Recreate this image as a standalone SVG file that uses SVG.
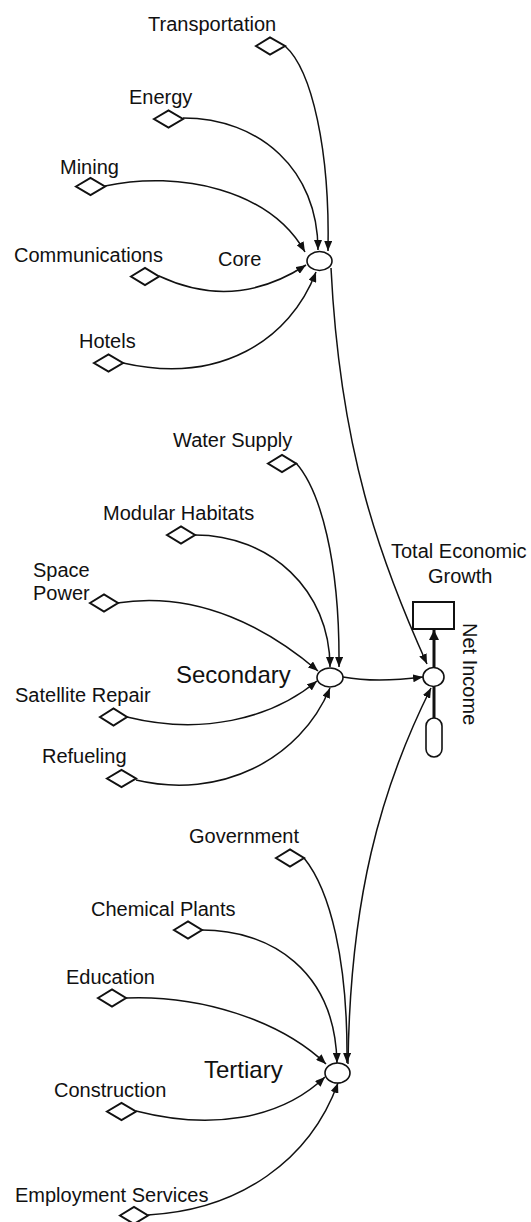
<svg xmlns="http://www.w3.org/2000/svg" width="531" height="1222" viewBox="0 0 531 1222">
<style>
text{font-family:"Liberation Sans",Arial,sans-serif;font-size:20px;fill:#111}
.big{font-size:24px}
.dia{fill:#fff;stroke:#111;stroke-width:2}
.aux{fill:#fff;stroke:#111;stroke-width:1.6}
.link{fill:none;stroke:#111;stroke-width:1.5;marker-end:url(#ah)}
.flow{fill:none;stroke:#111;stroke-width:3}
</style>
<defs>
<marker id="ah" viewBox="0 0 10 8" refX="10" refY="4" markerWidth="10" markerHeight="8" markerUnits="userSpaceOnUse" orient="auto">
<path d="M0 0 L10 4 L0 8 Z" fill="#111"/>
</marker>
<marker id="fh" viewBox="0 0 10 10" refX="10" refY="5" markerWidth="10" markerHeight="10" markerUnits="userSpaceOnUse" orient="auto">
<path d="M0 0 L10 5 L0 10 Z" fill="#111"/>
</marker>
</defs>
<g id="connectors">
<path class="link" d="M285 46 C312 70 330 150 328 251"/>
<path class="link" d="M183 118 C260 118 318 170 318 250"/>
<path class="link" d="M105 186 C180 170 270 190 305 252"/>
<path class="link" d="M159 276 C210 300 260 295 306 265"/>
<path class="link" d="M123 363 C220 385 290 340 316 272"/>
<path class="link" d="M331 268 C340 450 380 560 427 664"/>
<path class="link" d="M296 463 C320 490 340 560 339 667"/>
<path class="link" d="M195 535 C270 535 330 590 330 667"/>
<path class="link" d="M117 603 C200 590 270 630 318 671"/>
<path class="link" d="M127 717 C200 735 270 720 317 681"/>
<path class="link" d="M136 780 C220 800 300 760 330 688"/>
<path class="link" d="M343 677 C370 682 400 680 423 677"/>
<path class="link" d="M304 858 C330 890 348 960 347 1063"/>
<path class="link" d="M202 930 C270 930 335 970 337 1063"/>
<path class="link" d="M126 998 C200 995 280 1020 326 1064"/>
<path class="link" d="M136 1111 C210 1130 280 1120 325 1077"/>
<path class="link" d="M148 1215 C240 1210 310 1160 338 1083"/>
<path class="link" d="M348 1064 C350 900 380 790 431 688"/>
<path class="flow" d="M434 718 L434 686"/>
<path class="flow" d="M434 668 L434 630" marker-end="url(#fh)"/>
</g>
<g id="transportation"><text x="148" y="31">Transportation</text><path class="dia" d="M256 46 L270 37.5 L285 46 L270 54.5 Z"/></g>
<g id="energy"><text x="129" y="104">Energy</text><path class="dia" d="M154 119 L168.5 110.5 L183 119 L168.5 127.5 Z"/></g>
<g id="mining"><text x="60" y="174">Mining</text><path class="dia" d="M76 186.5 L90.5 178 L105 186.5 L90.5 195 Z"/></g>
<g id="communications"><text x="14" y="262">Communications</text><path class="dia" d="M131 276.5 L145 268 L159 276.5 L145 285 Z"/></g>
<g id="hotels"><text x="79" y="348">Hotels</text><path class="dia" d="M94 363 L108.5 354.5 L123 363 L108.5 371.5 Z"/></g>
<g id="core"><text x="218" y="266">Core</text><ellipse class="aux" cx="319.5" cy="261" rx="12.5" ry="9.5"/></g>
<g id="water-supply"><text x="173" y="447">Water Supply</text><path class="dia" d="M268 463.5 L282 455 L296 463.5 L282 472 Z"/></g>
<g id="modular-habitats"><text x="103" y="520">Modular Habitats</text><path class="dia" d="M167 535 L181 526.5 L195 535 L181 543.5 Z"/></g>
<g id="space-power"><text x="33" y="577">Space</text><text x="33" y="600">Power</text><path class="dia" d="M90 603 L104 594.5 L118 603 L104 611.5 Z"/></g>
<g id="satellite-repair"><text x="15" y="702">Satellite Repair</text><path class="dia" d="M100 717 L113.5 708.5 L127 717 L113.5 725.5 Z"/></g>
<g id="refueling"><text x="42" y="763">Refueling</text><path class="dia" d="M107 778.5 L121.5 770 L136 778.5 L121.5 787 Z"/></g>
<g id="secondary"><text class="big" x="176" y="683">Secondary</text><ellipse class="aux" cx="330" cy="677.5" rx="13" ry="9.5"/></g>
<g id="total-economic-growth"><text x="391" y="558">Total Economic</text><text x="428" y="583">Growth</text><rect x="413" y="602" width="41" height="27" fill="#fff" stroke="#111" stroke-width="2"/></g>
<g id="net-income"><ellipse class="aux" cx="433.5" cy="677" rx="10.5" ry="9.5"/><text transform="translate(463 623) rotate(90)">Net Income</text></g>
<g id="source"><rect x="426" y="718" width="16" height="39" rx="8" fill="#fff" stroke="#111" stroke-width="1.6"/></g>
<g id="government"><text x="189" y="843">Government</text><path class="dia" d="M276 858 L290 849.5 L304 858 L290 866.5 Z"/></g>
<g id="chemical-plants"><text x="91" y="916">Chemical Plants</text><path class="dia" d="M174 930 L188 921.5 L202 930 L188 938.5 Z"/></g>
<g id="education"><text x="66" y="984">Education</text><path class="dia" d="M98 998 L112 989.5 L126 998 L112 1006.5 Z"/></g>
<g id="construction"><text x="54" y="1097">Construction</text><path class="dia" d="M107 1111.5 L121.5 1103 L136 1111.5 L121.5 1120 Z"/></g>
<g id="employment-services"><text x="15" y="1202">Employment Services</text><path class="dia" d="M120 1215.5 L134 1207 L148 1215.5 L134 1224 Z"/></g>
<g id="tertiary"><text class="big" x="204" y="1078">Tertiary</text><ellipse class="aux" cx="337.5" cy="1073" rx="12.5" ry="10"/></g>
</svg>
